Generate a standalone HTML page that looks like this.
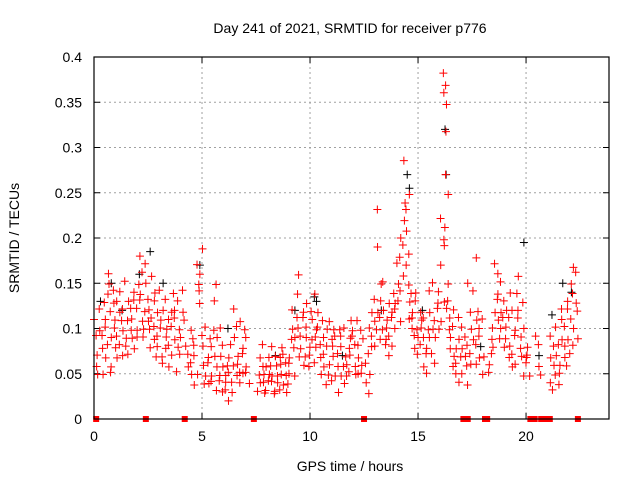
<!DOCTYPE html>
<html><head><meta charset="utf-8"><style>
html,body{margin:0;padding:0;background:#fff;}
svg{display:block;font-family:"Liberation Sans",sans-serif;}
</style></head><body>
<svg id="chart" width="640" height="480" viewBox="0 0 640 480">
<rect x="0" y="0" width="640" height="480" fill="#fff"/>
<text x="350" y="33" text-anchor="middle" font-size="14">Day 241 of 2021, SRMTID for receiver p776</text>
<text x="350" y="471" text-anchor="middle" font-size="14">GPS time / hours</text>
<text transform="translate(19,238) rotate(-90)" text-anchor="middle" font-size="14">SRMTID / TECUs</text>
<g id="grid"></g>
<g id="ticks"></g>
<g id="black"></g>
<g id="red"></g>
<g id="zeros"></g>
<rect x="94" y="57" width="515" height="362" fill="none" stroke="#000" stroke-width="1.2"/>
</svg>
<script>
const xTicks=[0,5,10,15,20];
const yTicks=[0,0.05,0.1,0.15,0.2,0.25,0.3,0.35,0.4];
const yTickLabels=["0","0.05","0.1","0.15","0.2","0.25","0.3","0.35","0.4"];
const redTimes=[0.0,0.1,0.2,0.3,0.4,0.5,0.6,0.7,0.8,0.9,1.0,1.1,1.2,1.3,1.4,1.5,1.6,1.7,1.8,1.9,2.0,2.1,2.2,2.3,2.4,2.5,2.6,2.7,2.8,2.9,3.0,3.1,3.2,3.3,3.4,3.5,3.6,3.7,3.8,3.9,4.0,4.1,4.3,4.4,4.5,4.6,4.7,4.8,4.9,5.0,5.1,5.2,5.3,5.4,5.5,5.6,5.7,5.8,5.9,6.0,6.1,6.2,6.3,6.4,6.5,6.6,6.7,6.8,6.9,7.0,7.1,7.6,7.7,7.8,7.9,8.0,8.1,8.2,8.3,8.4,8.5,8.6,8.7,8.8,8.9,9.0,9.1,9.2,9.3,9.4,9.5,9.6,9.7,9.8,9.9,10.0,10.1,10.2,10.3,10.4,10.5,10.6,10.7,10.8,10.9,11.0,11.1,11.2,11.3,11.4,11.5,11.6,11.7,11.8,11.9,12.0,12.1,12.2,12.3,12.4,12.6,12.7,12.8,12.9,13.0,13.1,13.2,13.3,13.4,13.5,13.6,13.7,13.8,13.9,14.0,14.1,14.2,14.3,14.4,14.5,14.6,14.7,14.8,14.9,15.0,15.1,15.2,15.3,15.4,15.5,15.6,15.7,15.8,15.9,16.0,16.1,16.2,16.25,16.3,16.4,16.5,16.6,16.7,16.8,16.9,17.0,17.1,17.2,17.3,17.4,17.5,17.6,17.7,17.8,17.9,18.0,18.3,18.4,18.5,18.6,18.7,18.8,18.9,19.0,19.1,19.2,19.3,19.4,19.5,19.6,19.7,19.8,19.9,20.0,20.1,20.5,20.6,21.1,21.2,21.3,21.4,21.5,21.6,21.7,21.8,21.9,22.0,22.1,22.2,22.3];
const redValues=[[.11,.06],[.05,.09],[.07,.10],[.08,.12,.05],[.09,.13],[.07,.11,.14],[.10,.15,.08],[.12,.16,.06],[.09,.13,.05],[.11,.14,.08],[.10,.07,.13],[.12,.09],[.08,.11,.14],[.10,.07],[.12,.09,.15],[.11,.08],[.13,.10,.07],[.09,.12],[.11,.08,.14],[.10,.13],[.12,.15,.09],[.14,.18,.11],[.13,.10,.16],[.12,.09],[.15,.11,.17],[.10,.13,.08],[.12,.16],[.09,.11,.14],[.10,.07,.13],[.12,.08],[.09,.11,.14],[.07,.10],[.12,.08,.06],[.10,.13],[.09,.06,.11],[.12,.08],[.10,.14,.07],[.09,.12],[.11,.08,.05],[.10,.13],[.09,.12,.07],[.11,.14],[.08,.06],[.10,.07,.05],[.06,.09],[.04,.07],[.08,.05],[.15,.17,.13],[.16,.19,.14],[.06,.09,.04],[.08,.05],[.07,.10,.04],[.06,.09],[.05,.08,.10],[.04,.07],[.15,.13,.06],[.09,.05,.03],[.07,.04],[.10,.06,.03],[.05,.08],[.03,.06,.04],[.07,.02],[.05,.03,.08],[.06,.04],[.09,.05,.12],[.07,.10],[.06,.11,.04],[.08,.05],[.07,.10,.05],[.06,.09],[.05,.04],[.05,.03,.07],[.04,.06],[.05,.08,.03],[.04,.06],[.07,.03,.05],[.04,.06],[.05,.08,.03],[.04,.07],[.06,.03,.05],[.04,.07],[.05,.03,.08],[.06,.04],[.05,.07,.03],[.06,.04],[.07,.05,.09],[.06,.10],[.08,.12,.05],[.09,.14],[.16,.11,.07],[.10,.08],[.12,.09,.06],[.11,.07],[.13,.09,.06],[.10,.08],[.12,.07,.09],[.11,.14],[.08,.06,.10],[.09,.12],[.07,.10,.05],[.08,.11],[.06,.09,.04],[.07,.10],[.05,.08,.11],[.06,.09],[.07,.04,.10],[.08,.05],[.06,.09,.03],[.07,.10],[.05,.08,.06],[.09,.04],[.07,.10,.05],[.06,.08],[.09,.05,.11],[.07,.10],[.06,.09,.05],[.08,.11],[.07,.05,.10],[.08,.06],[.09,.05],[.04,.03,.06],[.05,.07],[.10,.12,.08],[.11,.09],[.13,.10,.08],[.12,.19,.09],[.23,.15,.11],[.10,.13],[.12,.09,.15],[.11,.08],[.10,.13,.07],[.12,.09],[.11,.14,.08],[.13,.10],[.12,.15,.17],[.18,.13,.11],[.20,.16,.14],[.22,.19,.24],[.285,.21,.17,.15],[.25,.23,.13],[.18,.14,.11],[.12,.10,.08],[.11,.14,.09],[.10,.13],[.09,.12,.07],[.11,.08],[.10,.06,.09],[.08,.11],[.07,.10,.05],[.12,.09],[.14,.10,.07],[.11,.15],[.09,.13,.06],[.10,.12],[.14,.11,.17],[.20,.22,.13],[.38,.37,.36,.35],[.32,.27,.25,.21],[.19,.15,.12],[.10,.13,.08],[.09,.06,.11],[.07,.10],[.12,.08,.05],[.09,.06],[.11,.07,.04],[.08,.05],[.10,.07],[.06,.09,.04],[.15,.12,.08],[.10,.07],[.06,.09],[.18,.14,.11],[.08,.12,.06],[.07,.10],[.09,.05],[.07,.11],[.06,.09,.05],[.08,.07],[.10,.12],[.14,.17,.11],[.13,.09,.16],[.12,.10],[.15,.08,.11],[.09,.13],[.12,.07,.10],[.14,.11],[.08,.06,.12],[.10,.07],[.09,.14,.06],[.16,.12,.08],[.11,.07],[.13,.09,.05],[.10,.07],[.08,.06],[.07,.05],[.06,.09],[.08,.05],[.07,.04],[.09,.06,.03],[.05,.08],[.07,.04,.10],[.06,.08],[.05,.09,.11],[.07,.12],[.10,.06,.08],[.09,.13],[.12,.15,.07],[.14,.11,.17],[.10,.13,.08],[.12,.16,.09]];
const blackTimes=[0.0,0.3,0.8,1.3,2.1,2.6,3.2,4.9,6.2,8.4,9.3,10.2,10.3,11.5,13.3,14.5,14.6,15.2,16.25,16.3,17.9,19.9,20.6,21.2,21.7,22.1];
const blackValues=[.11,.13,.15,.12,.16,.185,.15,.17,.10,.07,.12,.135,.13,.07,.12,.27,.255,.12,.32,.27,.08,.195,.07,.115,.15,.14];
const zeroTimes=[0.1,2.4,4.2,7.4,12.5,17.1,17.3,18.1,18.2,20.2,20.4,20.7,20.9,21.1,22.4];

const NS="http://www.w3.org/2000/svg";
const X0=94,X1=609,Y0=419,Y1=57,XMAX=23.84,YMAX=0.4;
const jitterX=[0,1.5,-1.2,2.1,-0.6,0.9,-1.8,1.1];
const jitterY=[0,1.8,-1.4,0.7,-2.0,1.2,-0.5,2.2];
function sx(t){return X0+(X1-X0)*t/XMAX;}
function sy(v){return Y0-(Y0-Y1)*v/YMAX;}
function mk(tag,attrs,parent){const e=document.createElementNS(NS,tag);for(const k in attrs)e.setAttribute(k,attrs[k]);parent.appendChild(e);return e;}
const grid=document.getElementById('grid'),ticks=document.getElementById('ticks');
xTicks.forEach(t=>{
  const x=sx(t);
  if(t>0){const g=mk('line',{x1:x,x2:x,y1:Y0,y2:Y1,stroke:'#a0a0a0','stroke-dasharray':'2,3'},grid);
  
  }
  mk('line',{x1:x,x2:x,y1:Y0,y2:Y0-6,stroke:'#000'},ticks);
  mk('line',{x1:x,x2:x,y1:Y1,y2:Y1+6,stroke:'#000'},ticks);
  const l=mk('text',{x:x,y:Y0+22,'text-anchor':'middle','font-size':'14'},ticks);
  l.textContent=String(t);
  
  
});
yTicks.forEach((v,i)=>{
  const y=sy(v);
  if(v>0&&v<YMAX){const g=mk('line',{x1:X0,x2:X1,y1:y,y2:y,stroke:'#a0a0a0','stroke-dasharray':'2,3'},grid);
  
  }
  mk('line',{x1:X0,x2:X0+6,y1:y,y2:y,stroke:'#000'},ticks);
  mk('line',{x1:X1,x2:X1-6,y1:y,y2:y,stroke:'#000'},ticks);
  const l=mk('text',{x:X0-12,y:y+5,'text-anchor':'end','font-size':'14'},ticks);
  l.textContent=yTickLabels[i];
  
  
});
function plus(g,t,v,color,name,dx,dy){
  const x=sx(t)+dx,y=sy(v)+dy;
  const p=mk('path',{d:`M${x-4},${y}h8M${x},${y-4}v8`,stroke:color,'stroke-width':'1',fill:'none'},g);
  
  
}
const bg=document.getElementById('black');
blackTimes.forEach((t,i)=>plus(bg,t,blackValues[i],'#000','black-point',0,0));
const rg=document.getElementById('red');
redTimes.forEach((t,i)=>redValues[i].forEach((v,j)=>plus(rg,t+j*0.025,v,'#ff0000','red-point',jitterX[(i+j*3)%8],jitterY[(i*3+j)%8])));
const zg=document.getElementById('zeros');
zeroTimes.forEach(t=>{
  const r=mk('rect',{x:sx(t)-3,y:Y0-3,width:6,height:6,fill:'#ff0000'},zg);
  
  
});
</script>
</body></html>
